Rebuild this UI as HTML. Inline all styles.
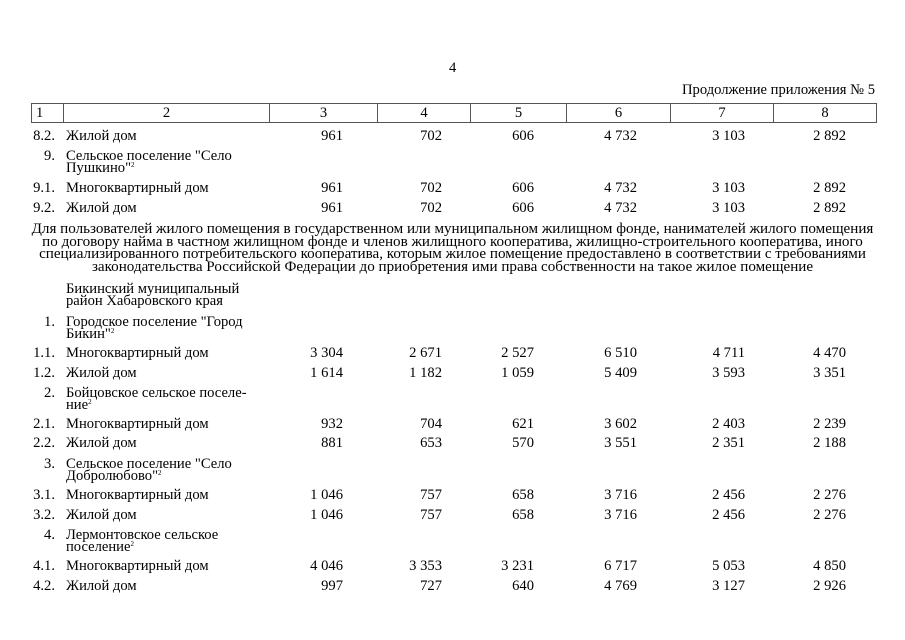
<!DOCTYPE html>
<html><head><meta charset="utf-8"><style>
body{margin:0;width:905px;height:640px;background:#fff;position:relative;overflow:hidden;font-family:"Liberation Serif",serif;font-size:14.6px;color:#000}
.a{position:absolute;white-space:nowrap;line-height:16px}
.n{position:absolute;width:40px;text-align:right;line-height:16px;white-space:nowrap}
.l{position:absolute;left:66px;line-height:11.5px;white-space:nowrap}
.v{position:absolute;text-align:right;line-height:16px;white-space:nowrap}
.p{position:absolute;left:0px;width:905px;text-align:center;line-height:12.6px;top:223px;font-size:15.1px}
sup{font-size:7px;line-height:0;vertical-align:5px}
table{position:absolute;left:31px;top:103px;border-collapse:collapse;font-size:14.6px}
td{border:1px solid #555;height:18px;padding:0;text-align:center;line-height:18px}
</style></head><body>
<div class="a" style="left:449px;top:60px">4</div>
<div class="a" style="right:30px;top:82px">Продолжение приложения № 5</div>
<table><tr><td style="text-align:left;padding-left:4px;width:27px">1</td><td style="width:205px">2</td><td style="width:107px">3</td><td style="width:92px">4</td><td style="width:95px">5</td><td style="width:103px">6</td><td style="width:102px">7</td><td style="width:102px">8</td></tr></table>
<div id="rows"></div>
<div class="p">Для пользователей жилого помещения в государственном или муниципальном жилищном фонде, нанимателей жилого помещения<br>по договору найма в частном жилищном фонде и членов жилищного кооператива, жилищно-строительного кооператива, иного<br>специализированного потребительского кооператива, которым жилое помещение предоставлено в соответствии с требованиями<br>законодательства Российской Федерации до приобретения ими права собственности на такое жилое помещение</div>
<script>
var R=[
[136,"8.2.","Жилой дом",["961","702","606","4 732","3 103","2 892"]],
[162,"9.","Сельское поселение \"Село<br>Пушкино\"<sup>2</sup>",null],
[188,"9.1.","Многоквартирный дом",["961","702","606","4 732","3 103","2 892"]],
[208,"9.2.","Жилой дом",["961","702","606","4 732","3 103","2 892"]],
[295,"","Бикинский муниципальный<br>район Хабаровского края",null],
[328,"1.","Городское поселение \"Город<br>Бикин\"<sup>2</sup>",null],
[353,"1.1.","Многоквартирный дом",["3 304","2 671","2 527","6 510","4 711","4 470"]],
[373,"1.2.","Жилой дом",["1 614","1 182","1 059","5 409","3 593","3 351"]],
[399,"2.","Бойцовское сельское поселе-<br>ние<sup>2</sup>",null],
[424,"2.1.","Многоквартирный дом",["932","704","621","3 602","2 403","2 239"]],
[443,"2.2.","Жилой дом",["881","653","570","3 551","2 351","2 188"]],
[470,"3.","Сельское поселение \"Село<br>Добролюбово\"<sup>2</sup>",null],
[495,"3.1.","Многоквартирный дом",["1 046","757","658","3 716","2 456","2 276"]],
[515,"3.2.","Жилой дом",["1 046","757","658","3 716","2 456","2 276"]],
[541,"4.","Лермонтовское сельское<br>поселение<sup>2</sup>",null],
[566,"4.1.","Многоквартирный дом",["4 046","3 353","3 231","6 717","5 053","4 850"]],
[586,"4.2.","Жилой дом",["997","727","640","4 769","3 127","2 926"]]];
var RE=[343,442,534,637,745,846],h="";
R.forEach(function(r){var y=r[0];
if(r[1])h+='<div class="n" style="left:15px;top:'+(r[3]?y-8:y-14)+'px">'+r[1]+'</div>';
h+='<div class="l" style="top:'+(r[3]?y-5:y-11)+'px">'+r[2]+'</div>';
if(r[3])r[3].forEach(function(v,i){h+='<div class="v" style="left:'+(RE[i]-80)+'px;width:80px;top:'+(y-8)+'px">'+v+'</div>';});});
document.getElementById('rows').innerHTML=h;
</script>
</body></html>
